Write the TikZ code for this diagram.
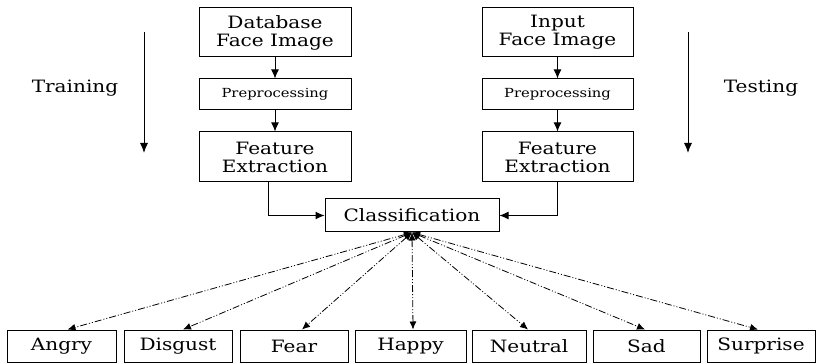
\documentclass[tikz,border=0pt]{standalone}
\usepackage{fontspec}
\setmainfont[FakeStretch=1.18]{DejaVu Serif}
\usetikzlibrary{arrows.meta}
\begin{document}
\begin{tikzpicture}[x=1pt,y=-1pt,
  box/.style={draw,line width=1pt,inner sep=0pt,align=center,font=\fontsize{17}{18}\selectfont},
  smallbox/.style={box,font=\fontsize{12.5}{14}\selectfont},
  emo/.style={box,minimum height=32},
  flow/.style={line width=1pt,-{Latex[length=9pt,width=8pt]}},
  side/.style={line width=1pt,-{Latex[length=10pt,width=8pt]}},
  fan/.style={line width=0.8pt,dash pattern=on 7pt off 2pt on 1pt off 2pt on 1pt off 2pt,
    {Latex[length=8pt,width=7pt]}-{Latex[length=8pt,width=7pt]}},
  lab/.style={font=\fontsize{17}{18}\selectfont}]
\useasboundingbox (0,0) rectangle (816,363);
% left column
\node[box,minimum width=152,minimum height=49] (db) at (275,32.5) {Database\\Face Image};
\node[smallbox,minimum width=152,minimum height=31] (pl) at (275,94.5) {Preprocessing};
\node[box,minimum width=152,minimum height=50] (fl) at (275,157) {Feature\\Extraction};
% right column
\node[box,minimum width=151,minimum height=49] (in) at (557.5,32.5) {Input\\Face Image};
\node[smallbox,minimum width=151,minimum height=31] (pr) at (557.5,94.5) {Preprocessing};
\node[box,minimum width=151,minimum height=50] (fr) at (557.5,157) {Feature\\Extraction};
% classification
\node[box,minimum width=174,minimum height=33] (cls) at (412,215.5) {Classification};
% side labels
\node[lab] (train) at (75,88) {Training};
\node[lab] (test) at (761,88) {Testing};
\coordinate (ta) at (144,32);
\coordinate (tb) at (144,153);
\coordinate (sa) at (688,32);
\coordinate (sb) at (688,153);
\draw[side] (ta) -- (tb);
\draw[side] (sa) -- (sb);
% flows
\draw[flow] (db) -- (pl);
\draw[flow] (pl) -- (fl);
\draw[flow] (in) -- (pr);
\draw[flow] (pr) -- (fr);
\draw[flow] ([xshift=-7pt]fl.south) |- (cls.west);
\draw[flow] (fr.south) |- (cls.east);
% emotions
\node[emo,minimum width=109] (angry) at (61.5,346) {Angry};
\node[emo,minimum width=108] (disgust) at (178,346) {Disgust};
\node[emo,minimum width=108] (fear) at (294,346) {Fear};
\node[emo,minimum width=111] (happy) at (410.5,346) {Happy};
\node[emo,minimum width=114] (neutral) at (529,346) {Neutral};
\node[emo,minimum width=107] (sad) at (646.5,346) {Sad};
\node[emo,minimum width=108] (surprise) at (761,346) {Surprise};
\foreach \n/\dx in {angry/6,disgust/5,fear/8,happy/2.5,neutral/-1,sad/-1.5,surprise/-3}
  \draw[fan] (cls.south) -- ([xshift=\dx pt]\n.north);
\end{tikzpicture}
\end{document}
